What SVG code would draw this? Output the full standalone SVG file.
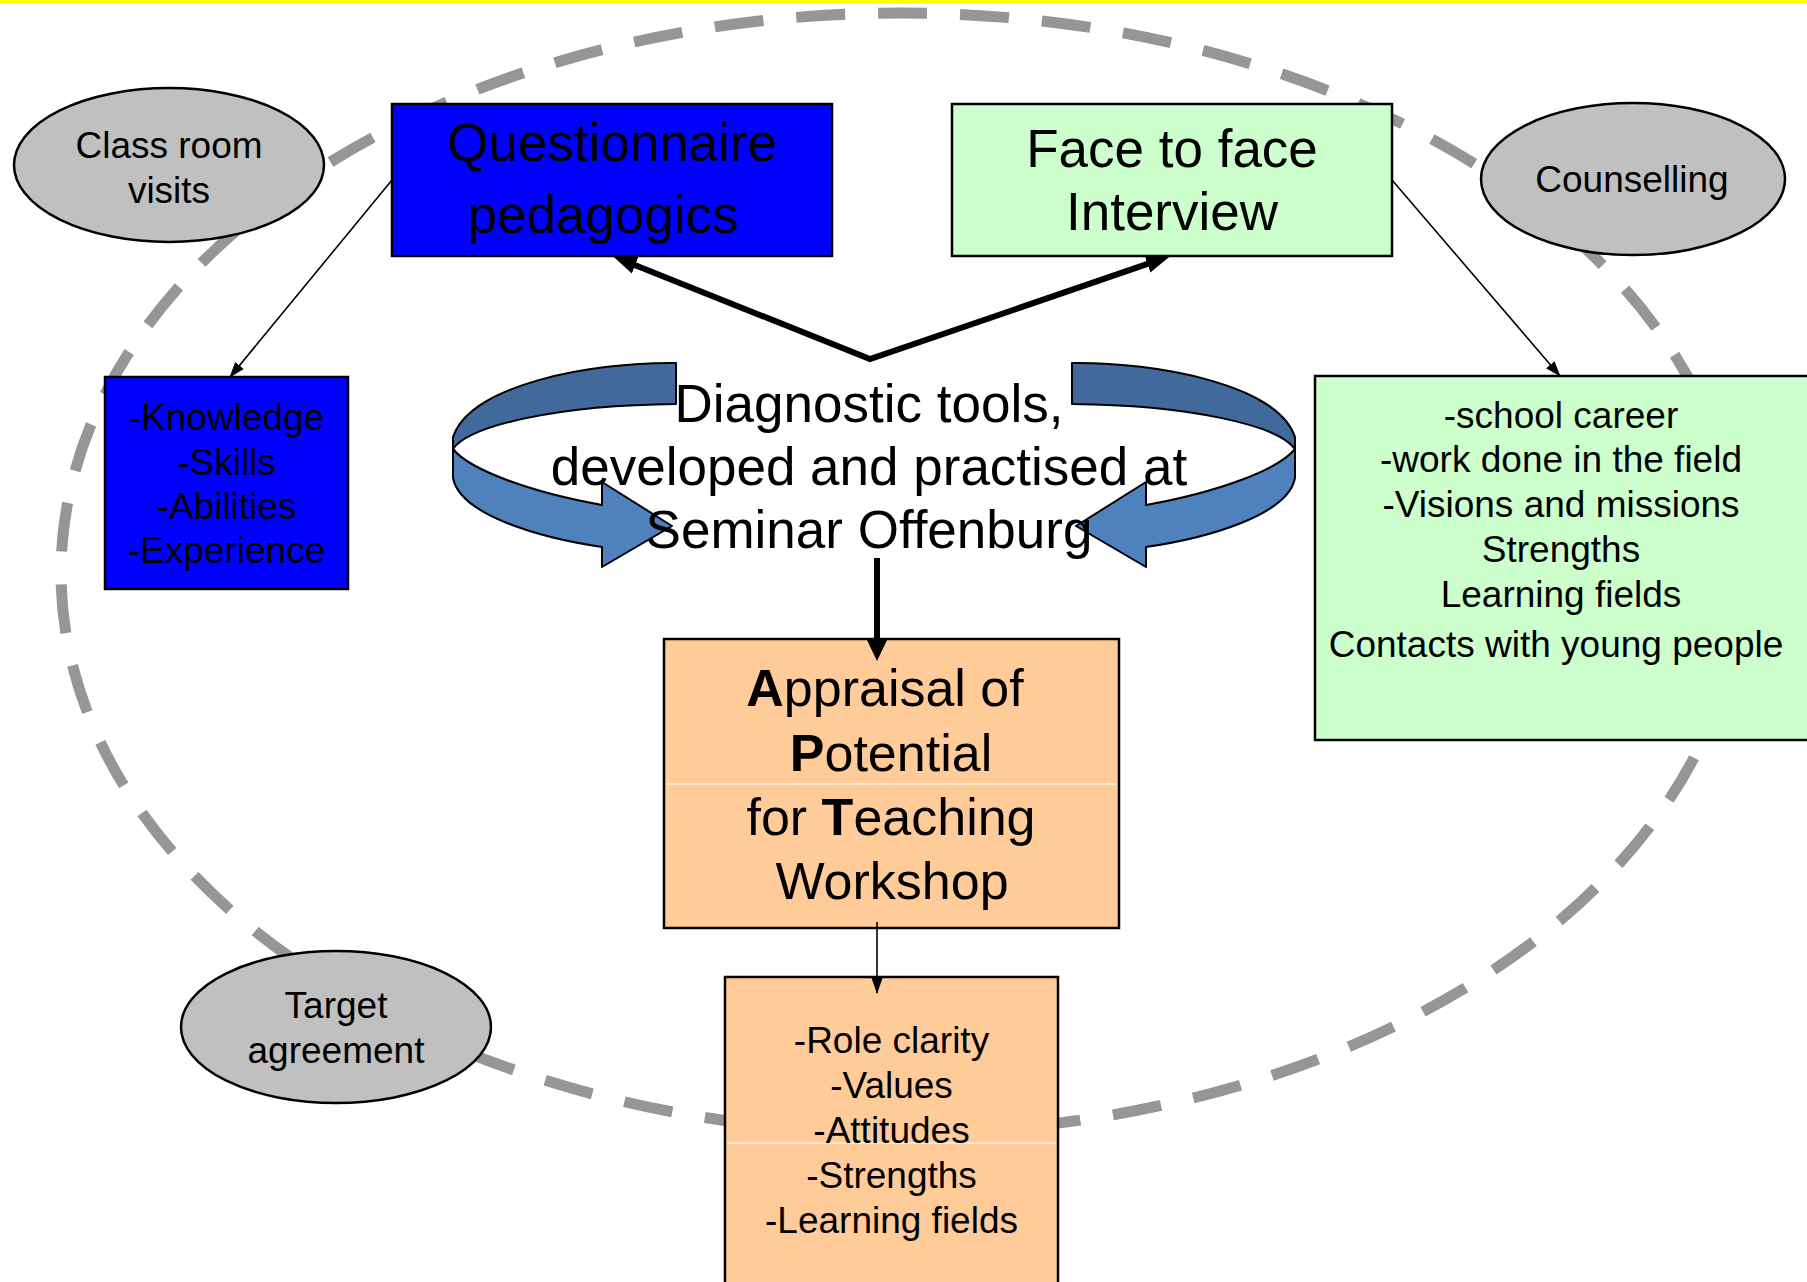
<svg xmlns="http://www.w3.org/2000/svg" width="1807" height="1282" viewBox="0 0 1807 1282">
<style>
text{font-family:"Liberation Sans",Arial,sans-serif;fill:#000;text-anchor:middle}
.box{stroke:#000;stroke-width:2.5}
.ell{fill:#C0C0C0;stroke:#000;stroke-width:2.5}
.t53{font-size:53px}
.t52{font-size:52px}
.t37{font-size:37px}
.b{font-weight:bold}
.thin{stroke:#000;stroke-width:1.6;fill:none}
.thick{stroke:#000;stroke-width:6;fill:none;stroke-linejoin:miter}
.dark{fill:#41699B;stroke:#000;stroke-width:2;stroke-linejoin:round}
.light{fill:#4F81BD;stroke:#000;stroke-width:2;stroke-linejoin:round}
.sep{stroke:#fff;stroke-width:1.2}
</style>
<defs>
<marker id="ahThin" markerUnits="userSpaceOnUse" markerWidth="16" markerHeight="12" refX="15" refY="6" orient="auto"><path d="M0,0.5 L16,6 L0,11.5 Z" fill="#000"/></marker>
<marker id="ahThick" markerUnits="userSpaceOnUse" markerWidth="26" markerHeight="20" refX="4" refY="10" orient="auto-start-reverse"><path d="M0,1 L24,10 L0,19 Z" fill="#000"/></marker>
<marker id="ahDown" markerUnits="userSpaceOnUse" markerWidth="24" markerHeight="24" refX="3" refY="11" orient="auto"><path d="M0,0 L23,11 L0,22 Z" fill="#000"/></marker>
<g id="curl">
<path class="dark" d="M676,363 C590,362 470,385 453,437 L453,449 C470,425 560,405 676,404 Z"/>
<path class="light" d="M453,449 C470,470 530,492 602,505 L602,482 L672,526 L602,567 L602,547 C540,538 460,515 453,478 Z"/>
</g>
</defs>
<rect width="1807" height="1282" fill="#fff"/>
<rect x="0" y="0" width="1807" height="3.5" fill="#FFFF00"/>
<ellipse id="cycle" cx="901" cy="573" rx="840" ry="560" fill="none" stroke="#969696" stroke-width="11" stroke-dasharray="49 33" stroke-dashoffset="53.5"/>

<g id="classroom">
<ellipse class="ell" cx="169" cy="165" rx="155" ry="77"/>
<text class="t37" x="169" y="158">Class room</text>
<text class="t37" x="169" y="203">visits</text>
</g>
<g id="counselling">
<ellipse class="ell" cx="1633" cy="179" rx="152" ry="76"/>
<text class="t37" x="1632" y="192">Counselling</text>
</g>
<g id="target">
<ellipse class="ell" cx="336" cy="1027" rx="155" ry="76"/>
<text class="t37" x="336" y="1018">Target</text>
<text class="t37" x="336" y="1063">agreement</text>
</g>

<g id="questionnaire">
<rect class="box" x="392" y="104" width="440" height="152" fill="#0000FF"/>
<text class="t53" x="612" y="161">Questionnaire</text>
<text class="t53" x="603" y="233">pedagogics</text>
</g>
<g id="interview">
<rect class="box" x="952" y="104" width="440" height="152" fill="#CCFFCC"/>
<text class="t53" x="1172" y="167">Face to face</text>
<text class="t53" x="1172" y="230">Interview</text>
</g>
<g id="knowledge">
<rect class="box" x="105" y="377" width="243" height="212" fill="#0000FF"/>
<text class="t37" x="226.5" y="430">-Knowledge</text>
<text class="t37" x="226.5" y="475">-Skills</text>
<text class="t37" x="226.5" y="519">-Abilities</text>
<text class="t37" x="226.5" y="563">-Experience</text>
</g>
<g id="career">
<rect class="box" x="1315" y="376" width="500" height="364" fill="#CCFFCC"/>
<text class="t37" x="1561" y="428">-school career</text>
<text class="t37" x="1561" y="472">-work done in the field</text>
<text class="t37" x="1561" y="517">-Visions and missions</text>
<text class="t37" x="1561" y="562">Strengths</text>
<text class="t37" x="1561" y="607">Learning fields</text>
<text class="t37" x="1556" y="657">Contacts with young people</text>
</g>
<g id="diagnostic">
<use href="#curl"/>
<use href="#curl" transform="matrix(-1 0 0 1 1748 0)"/>
<text class="t53" x="869" y="422">Diagnostic tools,</text>
<text class="t53" x="869" y="485">developed and practised at</text>
<text class="t53" x="869" y="548">Seminar Offenburg</text>
</g>
<g id="appraisal">
<rect class="box" x="664" y="639" width="455" height="289" fill="#FFCC99"/>
<line class="sep" x1="666" y1="784" x2="1117" y2="784"/>
<text class="t52" x="885" y="706"><tspan class="b">A</tspan>ppraisal of</text>
<text class="t52" x="891" y="771"><tspan class="b">P</tspan>otential</text>
<text class="t52" x="891" y="835">for <tspan class="b">T</tspan>eaching</text>
<text class="t52" x="892" y="899">Workshop</text>
</g>
<g id="workshop-results">
<rect class="box" x="725" y="977" width="333" height="330" fill="#FFCC99"/>
<line class="sep" x1="727" y1="1143" x2="1056" y2="1143"/>
<text class="t37" x="891.5" y="1053">-Role clarity</text>
<text class="t37" x="891.5" y="1098">-Values</text>
<text class="t37" x="891.5" y="1143">-Attitudes</text>
<text class="t37" x="891.5" y="1188">-Strengths</text>
<text class="t37" x="891.5" y="1233">-Learning fields</text>
</g>

<g id="connectors">
<polyline class="thick" points="631.5,263.7 870,359 1151.2,262.7" marker-start="url(#ahThick)" marker-end="url(#ahThick)"/>
<line class="thick" x1="877" y1="558" x2="877" y2="641" marker-end="url(#ahDown)"/>
<line class="thin" x1="877" y1="922" x2="877" y2="993" marker-end="url(#ahThin)"/>
<line class="thin" x1="392" y1="180" x2="230" y2="377" marker-end="url(#ahThin)"/>
<line class="thin" x1="1392" y1="180" x2="1560" y2="376" marker-end="url(#ahThin)"/>
</g>
</svg>
